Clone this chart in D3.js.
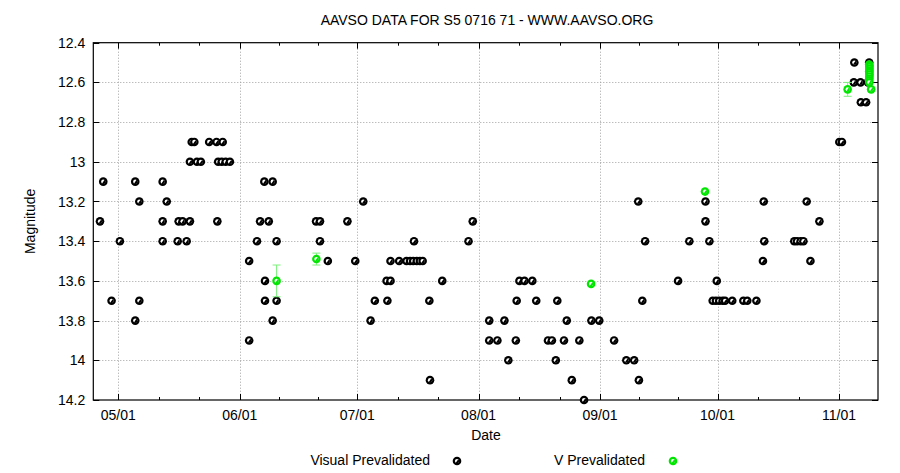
<!DOCTYPE html>
<html>
<head>
<meta charset="utf-8">
<script src="https://cdn.jsdelivr.net/npm/d3@7"></script>
<style>
  body { margin: 0; background: #fff; }
  text { font-family: "Liberation Sans", Arial, sans-serif; fill: #000; }
</style>
</head>
<body>
<svg id="chart" width="900" height="473"></svg>
<script>
// Visual Prevalidated observations
var visDates = [
  "04-26T08","04-27T04","04-29T07","05-01T10","05-05T08","05-05T08","05-06T09","05-06T09",
  "05-12T08","05-12T08","05-12T08","05-13T09","05-16T04","05-16T10","05-17T10","05-18T11",
  "05-19T07","05-19T07","05-19T18","05-20T10","05-21T02","05-22T02","05-24T05","05-26T02",
  "05-26T07","05-26T12","05-27T10","05-27T16","05-28T10","05-29T12","06-03T10","06-03T10",
  "06-05T10","06-06T05","06-07T07","06-07T11","06-07T11","06-08T10","06-09T10","06-09T10",
  "06-10T10","06-10T10","06-20T12","06-21T12","06-21T12","06-23T12","06-28T12","06-30T12",
  "07-02T13","07-04T10","07-05T12","07-08T12","07-08T17","07-09T12","07-09T12","07-11T17",
  "07-13T14","07-14T12","07-15T07","07-15T12","07-16T05","07-17T00","07-17T17","07-19T10",
  "07-19T14","07-22T17","07-29T10","07-30T12","08-03T17","08-03T17","08-05T19","08-07T14",
  "08-08T14","08-10T12","08-10T17","08-11T10","08-12T17","08-14T17","08-15T17","08-18T17",
  "08-19T17","08-20T17","08-21T02","08-22T19","08-23T12","08-24T19","08-26T17","08-27T22",
  "08-29T19","08-31T19","09-04T14","09-07T17","09-09T17","09-10T18","09-10T22","09-11T19",
  "09-12T12","09-20T22","09-23T19","09-27T22","09-27T22","09-28T22","09-29T18","09-30T14",
  "09-30T19","10-01T10","10-02T07","10-02T22","10-04T18","10-07T14","10-08T14","10-10T22",
  "10-12T14","10-12T19","10-12T22","10-20T14","10-21T07","10-22T05","10-22T22","10-23T18",
  "10-24T17","10-27T00","11-01T02","11-01T18","11-04T19","11-04T22","11-06T12","11-06T14",
  "11-07T22","11-08T17","11-08T10"
];
var visMags = [
  13.3,13.1,13.7,13.4,13.1,13.8,13.2,13.7,
  13.1,13.3,13.4,13.2,13.4,13.3,13.3,13.4,
  13.3,13.0,12.9,12.9,13.0,13.0,12.9,12.9,
  13.3,13.0,13.0,12.9,13.0,13.0,13.5,13.9,
  13.4,13.3,13.1,13.6,13.7,13.3,13.1,13.8,
  13.4,13.7,13.3,13.3,13.4,13.5,13.3,13.5,
  13.2,13.8,13.7,13.6,13.7,13.6,13.5,13.5,
  13.5,13.5,13.5,13.4,13.5,13.5,13.5,13.7,
  14.1,13.6,13.4,13.3,13.8,13.9,13.9,13.8,
  14.0,13.9,13.7,13.6,13.6,13.6,13.7,13.9,
  13.9,14.0,13.7,13.9,13.8,14.1,13.9,14.2,
  13.8,13.8,13.9,14.0,14.0,13.2,14.1,13.7,
  13.4,13.6,13.4,13.2,13.3,13.4,13.7,13.7,
  13.6,13.7,13.7,13.7,13.7,13.7,13.7,13.7,
  13.5,13.2,13.4,13.4,13.4,13.4,13.4,13.2,
  13.5,13.3,12.9,12.9,12.6,12.5,12.6,12.7,
  12.7,12.5,12.6
];

// V Prevalidated observations (with uncertainty)
var vDates = ["06-10T10","06-20T14","08-29T17","09-27T19","11-03T05","11-09T05",
              "11-08T17","11-08T18","11-08T18","11-08T19","11-08T18","11-08T17",
              "11-08T18","11-08T19","11-08T18","11-08T18","11-08T17","11-08T18"];
var vMags  = [13.6,13.49,13.615,13.15,12.635,12.635,
              12.51,12.515,12.52,12.53,12.54,12.545,
              12.55,12.56,12.57,12.58,12.59,12.6];
var vErrs  = [0.08,0.03,0,0,0.035,0.01,0,0,0,0,0,0,0,0,0,0,0,0];

var yTicks = [12.4,12.6,12.8,13,13.2,13.4,13.6,13.8,14,14.2];
var year = "2009";
var xStart = "04-24T15", xEnd = "11-10T23";

function main() {
  var svg = d3.select("#chart");
  var left = 93.3, right = 878, top = 42.7, bottom = 400;
  var parse = d3.utcParse("%Y-%m-%dT%H");
  var toDate = function(s){ return parse(year + "-" + s); };

  var x = d3.scaleUtc().domain([toDate(xStart), toDate(xEnd)]).range([left, right]);
  var y = d3.scaleLinear().domain([12.4, 14.2]).range([top, bottom]);

  var months = d3.utcMonth.range(d3.utcMonth.ceil(x.domain()[0]), d3.utcMonth.offset(x.domain()[1], 1));
  var minor = [];
  months.forEach(function(m){
    var a = x(m), b = x(d3.utcMonth.offset(m, 1));
    minor.push(a + (b - a) / 3, a + 2 * (b - a) / 3);
  });
  minor = minor.filter(function(v){ return v > left + 1 && v < right - 1; });
  var major = months.filter(function(m){ return x(m) <= right; });

  // grid
  var grid = svg.append("g").attr("stroke", "#a0a0a0").attr("stroke-width", 1).attr("stroke-dasharray", "1,2");
  grid.selectAll(".vg").data(major).enter().append("line")
    .attr("x1", function(d){ return Math.round(x(d)) + 0.5; }).attr("x2", function(d){ return Math.round(x(d)) + 0.5; })
    .attr("y1", top).attr("y2", bottom);
  grid.selectAll(".hg").data(yTicks.slice(1, -1)).enter().append("line")
    .attr("y1", function(d){ return Math.round(y(d)) + 0.5; }).attr("y2", function(d){ return Math.round(y(d)) + 0.5; })
    .attr("x1", left).attr("x2", right);

  // ticks (inward, mirrored)
  var ticks = svg.append("g").attr("stroke", "#000").attr("stroke-width", 1);
  major.forEach(function(m){
    var px = Math.round(x(m)) + 0.5;
    ticks.append("line").attr("x1", px).attr("x2", px).attr("y1", bottom).attr("y2", bottom - 6);
    ticks.append("line").attr("x1", px).attr("x2", px).attr("y1", top).attr("y2", top + 6);
  });
  minor.forEach(function(v){
    var px = Math.round(v) + 0.5;
    ticks.append("line").attr("x1", px).attr("x2", px).attr("y1", bottom).attr("y2", bottom - 3);
    ticks.append("line").attr("x1", px).attr("x2", px).attr("y1", top).attr("y2", top + 3);
  });
  yTicks.forEach(function(t){
    var py = Math.round(y(t)) + 0.5;
    ticks.append("line").attr("x1", left).attr("x2", left + 6).attr("y1", py).attr("y2", py);
    ticks.append("line").attr("x1", right).attr("x2", right - 6).attr("y1", py).attr("y2", py);
  });

  // border
  svg.append("rect").attr("x", left).attr("y", top).attr("width", right - left).attr("height", bottom - top)
    .attr("fill", "none").attr("stroke", "#000").attr("stroke-width", 1.2);

  // tick labels
  svg.selectAll(".xl").data(major).enter().append("text")
    .attr("x", function(d){ return x(d); }).attr("y", bottom + 20)
    .attr("text-anchor", "middle").attr("font-size", 14)
    .text(d3.utcFormat("%m/%d"));
  svg.selectAll(".yl").data(yTicks).enter().append("text")
    .attr("x", left - 8).attr("y", function(d){ return y(d) + 5; })
    .attr("text-anchor", "end").attr("font-size", 14)
    .text(function(d){ return String(d); });

  // titles
  svg.append("text").attr("x", 487).attr("y", 25).attr("text-anchor", "middle").attr("font-size", 14)
    .text("AAVSO DATA FOR S5 0716 71 - WWW.AAVSO.ORG");
  svg.append("text").attr("x", 486).attr("y", 440).attr("text-anchor", "middle").attr("font-size", 14).text("Date");
  svg.append("text").attr("transform", "translate(35," + ((top + bottom) / 2) + ") rotate(-90)")
    .attr("text-anchor", "middle").attr("font-size", 14).text("Magnitude");

  function marker(g, cx, cy, col) {
    var m = g.append("g").attr("transform", "translate(" + cx + "," + cy + ")");
    m.append("circle").attr("r", 4.3).attr("fill", col);
    m.append("circle").attr("r", 2.1).attr("fill", "#fff");
    m.append("path").attr("d", d3.arc()({innerRadius: 0, outerRadius: 2.2, startAngle: 0.6, endAngle: 0.6 + Math.PI})).attr("fill", col);
  }

  // visual points
  var gv = svg.append("g");
  visDates.forEach(function(d, i){ marker(gv, x(toDate(d)), y(visMags[i]), "#000"); });

  // V points with error bars
  var green = "#00e600", errCol = "#7cf07c";
  var ge = svg.append("g").attr("stroke", errCol).attr("stroke-width", 1);
  vDates.forEach(function(d, i){
    if (!vErrs[i]) return;
    var cx = x(toDate(d));
    ge.append("line").attr("x1", cx).attr("x2", cx).attr("y1", y(vMags[i] - vErrs[i])).attr("y2", y(vMags[i] + vErrs[i]));
    [vMags[i] - vErrs[i], vMags[i] + vErrs[i]].forEach(function(v){
      ge.append("line").attr("x1", cx - 4).attr("x2", cx + 4).attr("y1", y(v)).attr("y2", y(v));
    });
  });
  var gg = svg.append("g");
  vDates.forEach(function(d, i){ marker(gg, x(toDate(d)), y(vMags[i]), green); });

  // legend
  svg.append("text").attr("x", 430).attr("y", 465).attr("text-anchor", "end").attr("font-size", 14).text("Visual Prevalidated");
  marker(svg, 457, 461, "#000");
  svg.append("text").attr("x", 645).attr("y", 465).attr("text-anchor", "end").attr("font-size", 14).text("V Prevalidated");
  marker(svg, 673, 461, green);
}
main();
</script>
</body>
</html>
